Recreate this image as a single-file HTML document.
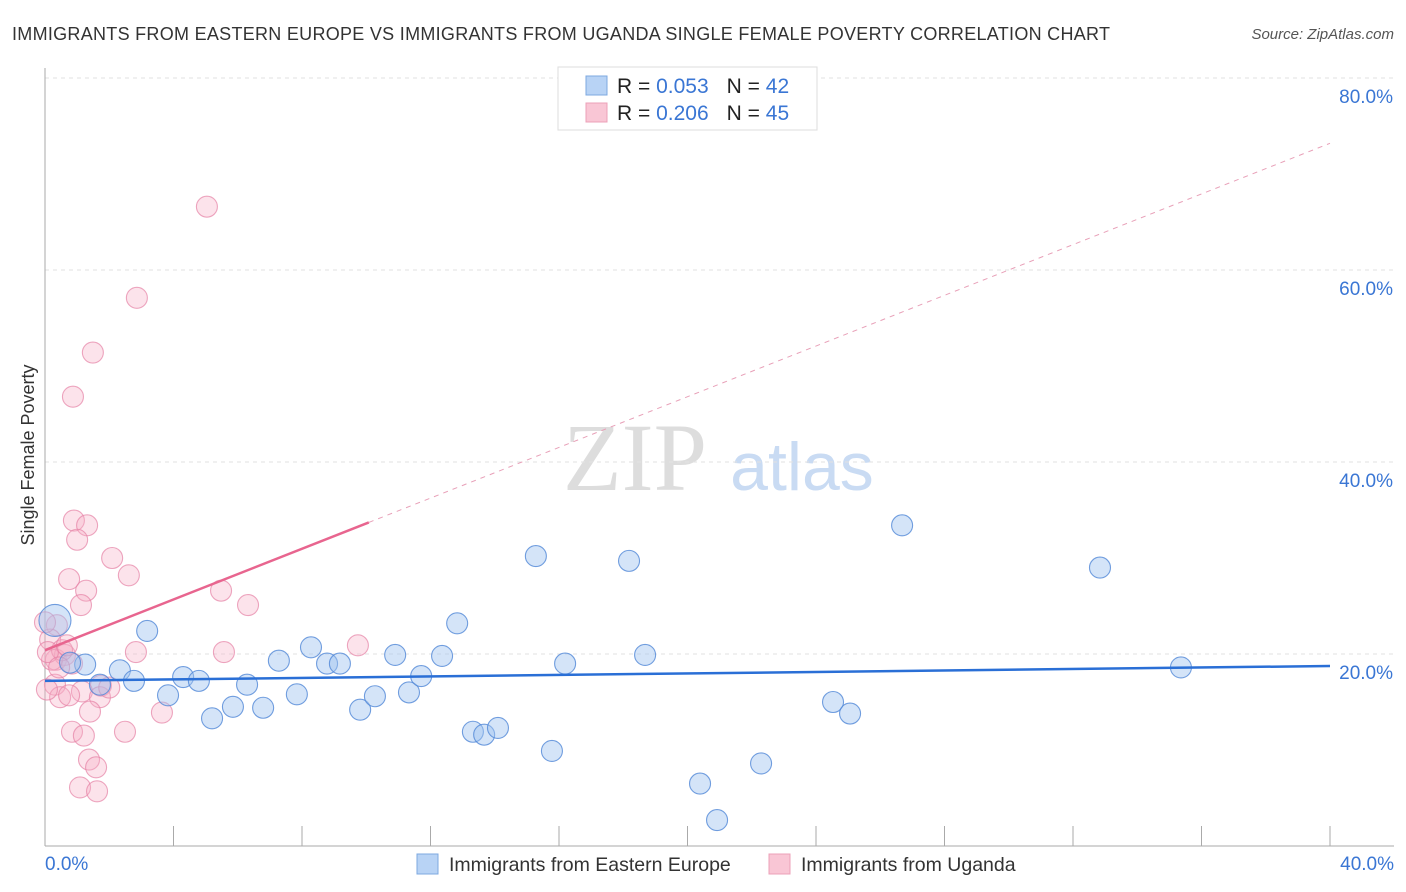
<!DOCTYPE html>
<html><head><meta charset="utf-8"><style>
body{margin:0;background:#fff;font-family:"Liberation Sans",sans-serif;}
svg{display:block}
</style></head><body>
<svg id="chart" width="1406" height="892" xmlns="http://www.w3.org/2000/svg">
<text x="12" y="40" font-size="18" fill="#333" textLength="1098" lengthAdjust="spacing">IMMIGRANTS FROM EASTERN EUROPE VS IMMIGRANTS FROM UGANDA SINGLE FEMALE POVERTY CORRELATION CHART</text>
<text x="1394" y="39" font-size="15" fill="#555" font-style="italic" text-anchor="end">Source: ZipAtlas.com</text>
<text x="635" y="490" font-size="96" fill="#ddd" font-family="Liberation Serif,serif" text-anchor="middle">ZIP</text>
<text x="802" y="490" font-size="68" fill="#c9dbf3" text-anchor="middle">atlas</text>
<g id="grid"></g>
<line x1="45" y1="68" x2="45" y2="846" stroke="#aaa"/>
<line x1="45" y1="846" x2="1394" y2="846" stroke="#aaa"/>
<g id="ticks"></g>
<text x="34" y="455" font-size="18" fill="#333" text-anchor="middle" transform="rotate(-90 34 455)">Single Female Poverty</text>
<text x="45" y="870" font-size="19" fill="#3a76d4">0.0%</text>
<text x="1394" y="870" font-size="19" fill="#3a76d4" text-anchor="end">40.0%</text>
<g id="pts"></g>
<g id="trends"></g>
<g>
<rect x="558" y="67" width="259" height="63" fill="#fff" stroke="#ddd"/>
<rect x="586" y="76" width="21" height="19" fill="#b8d3f5" stroke="#7ea8e0"/>
<rect x="586" y="103" width="21" height="19" fill="#f9c6d5" stroke="#eca0b8"/>
<text x="617" y="93" font-size="21" fill="#222">R = <tspan fill="#3a76d4">0.053</tspan><tspan dx="18">N = </tspan><tspan fill="#3a76d4">42</tspan></text>
<text x="617" y="120" font-size="21" fill="#222">R = <tspan fill="#3a76d4">0.206</tspan><tspan dx="18">N = </tspan><tspan fill="#3a76d4">45</tspan></text>
</g>
<g>
<rect x="417" y="854" width="21" height="20" fill="#b8d3f5" stroke="#7ea8e0"/>
<text x="449" y="871" font-size="19.5" fill="#333">Immigrants from Eastern Europe</text>
<rect x="769" y="854" width="21" height="20" fill="#f9c6d5" stroke="#eca0b8"/>
<text x="801" y="871" font-size="19.5" fill="#333">Immigrants from Uganda</text>
</g>
</svg>
<script>
const yTicks=[20,40,60,80];
const xTicks=[0,4,8,12,16,20,24,28,32,36,40];
const blueX=[0.31,1.25,0.78,2.33,2.77,3.18,3.83,4.30,4.79,5.20,5.85,6.29,6.79,7.28,7.84,8.28,8.78,9.18,9.81,10.27,10.90,11.33,11.71,12.36,12.83,13.32,13.67,14.10,15.28,15.78,16.19,18.18,18.68,20.39,20.92,22.29,24.53,25.06,26.68,32.84,35.36,1.71];
const blueY=[23.5,18.9,19.1,18.3,17.2,22.4,15.7,17.6,17.2,13.3,14.5,16.8,14.4,19.3,15.8,20.7,19.0,19.0,14.2,15.6,19.9,16.0,17.7,19.8,23.2,11.9,11.6,12.3,30.2,9.9,19.0,29.7,19.9,6.5,2.7,8.6,15.0,13.8,33.4,29.0,18.6,16.8];
const pinkX=[5.04,2.86,1.49,0.87,0.90,1.31,1.00,2.09,0.75,2.61,1.28,1.12,5.48,6.32,0.37,0.16,9.74,2.83,5.57,0.34,0.62,0.84,0.22,0.53,0.31,1.74,1.15,0.47,0.75,1.71,1.40,3.64,0.84,1.21,2.49,1.37,1.59,1.09,1.62,0.0,0.09,0.68,0.44,0.06,2.0];
const pinkY=[66.6,57.1,51.4,46.8,33.9,33.4,31.9,30.0,27.8,28.2,26.6,25.1,26.6,25.1,23.0,21.5,20.9,20.2,20.2,19.4,19.9,19.0,19.4,20.4,16.8,16.7,16.1,15.5,15.7,15.5,14.0,13.9,11.9,11.5,11.9,9.0,8.2,6.1,5.7,23.3,20.2,20.9,18.6,16.3,16.5];
const blueTrend=[17.2,18.75];
const pinkTrend=[20.4,73.2];
const NS='http://www.w3.org/2000/svg';
const sx=v=>45+v/40*1285, sy=v=>846-v/80*768;
function mk(t,a,p){const e=document.createElementNS(NS,t);for(const k in a)e.setAttribute(k,a[k]);p.appendChild(e);return e;}
const grid=document.getElementById('grid'),ticks=document.getElementById('ticks');
yTicks.forEach(v=>{
 const l=mk('line',{x1:45,x2:1394,y1:sy(v),y2:sy(v),stroke:'#e2e2e2','stroke-dasharray':'4,4'},grid);
 
 
 const t=mk('text',{x:1393,y:sy(v)+25,'font-size':19,fill:'#3a76d4','text-anchor':'end'},ticks);
 t.textContent=v.toFixed(1)+'%';
 
 
});
xTicks.forEach(v=>{
 const l=mk('line',{x1:sx(v),x2:sx(v),y1:826,y2:846,stroke:'#aaa'},ticks);
 
 
});
const pts=document.getElementById('pts');
pinkX.forEach((x,i)=>{
 const c=mk('circle',{cx:sx(x),cy:sy(pinkY[i]),r:10.5,fill:'rgba(246,176,198,0.35)',stroke:'rgba(230,130,165,0.7)','stroke-width':1.1},pts);
 
 
});
blueX.forEach((x,i)=>{
 const c=mk('circle',{cx:sx(x),cy:sy(blueY[i]),r:i==0?16:10.5,fill:'rgba(160,196,240,0.45)',stroke:'rgba(80,135,215,0.8)','stroke-width':1.1},pts);
 
 
});
const tr=document.getElementById('trends');
const b=mk('line',{x1:sx(0),y1:sy(blueTrend[0]),x2:sx(40),y2:sy(blueTrend[1]),stroke:'#2a6fd6','stroke-width':2.5},tr);


const pAt=x=>pinkTrend[0]+(pinkTrend[1]-pinkTrend[0])*x/40;
const p1=mk('line',{x1:sx(0),y1:sy(pAt(0)),x2:sx(10.08),y2:sy(pAt(10.08)),stroke:'#e8658f','stroke-width':2.5},tr);


const p2=mk('line',{x1:sx(10.08),y1:sy(pAt(10.08)),x2:sx(40),y2:sy(pAt(40)),stroke:'#e8a0b8','stroke-width':1,'stroke-dasharray':'5,5'},tr);


</script>
</body></html>
